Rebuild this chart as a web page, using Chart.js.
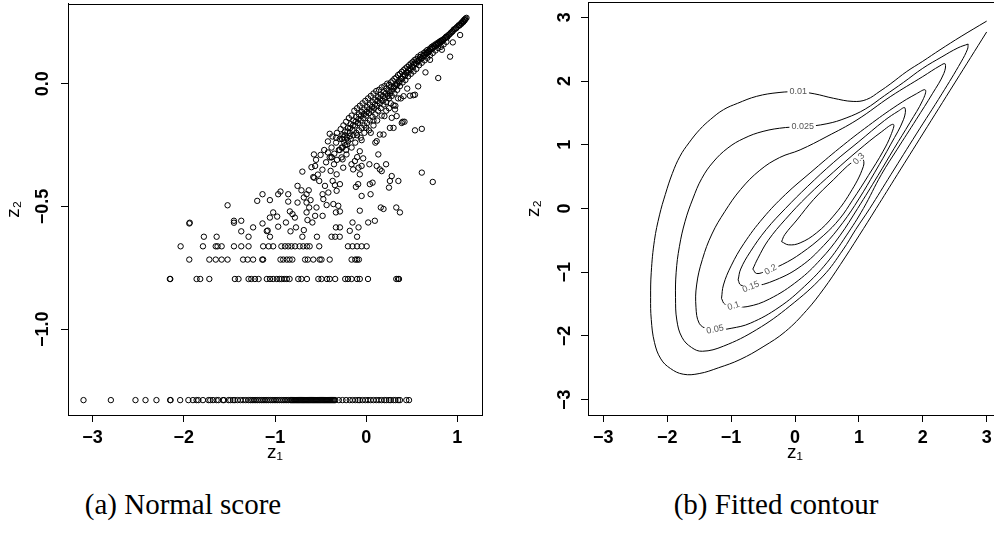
<!DOCTYPE html>
<html><head><meta charset="utf-8">
<script src="https://cdn.jsdelivr.net/npm/chart.js@4.4.0/dist/chart.umd.min.js"></script>
<style>
html,body{margin:0;padding:0;background:#fff;overflow:hidden;width:994px;height:536px;position:relative;}
#c1{position:absolute;left:0;top:0;}
#c2{position:absolute;left:497px;top:0;}
.cap{position:absolute;top:488px;font-family:"Liberation Serif",serif;font-size:29px;line-height:33px;white-space:nowrap;transform:translateX(-50%);color:#000;}
</style></head><body>
<canvas id="c1" width="497" height="470"></canvas>
<canvas id="c2" width="510" height="470"></canvas>
<div class="cap" style="left:183px">(a) Normal score</div>
<div class="cap" style="left:776px">(b) Fitted contour</div>
<script>
// ---------- Panel (a): normal scores ----------
const xTicksA = [-3, -2, -1, 0, 1];
const xLabelsA = ['−3', '−2', '−1', '0', '1'];
const yTicksA = [-1.0, -0.5, 0.0];
const yLabelsA = ['−1.0', '−0.5', '0.0'];

// tied rows (z2 constant)
const rowY = [-1.288, -0.795, -0.716, -0.662, -0.623];
const row1X = [-3.10, -2.80, -2.53, -2.42, -2.30, -2.15, -2.145, -2.04, -1.95, -1.90, -1.86, -1.84, -1.79, -1.73, -1.71, -1.68, -1.64, -1.62, -1.57, -1.56, -1.51, -1.49, -1.46,
  -1.44, -1.41, -1.38, -1.35, -1.32, -1.29, -1.27, -1.25, -1.23, -1.21, -1.19, -1.17, -1.15, -1.13, -1.11, -1.09, -1.07, -1.05, -1.03, -1.01, -0.99, -0.97, -0.95, -0.93, -0.91, -0.89, -0.87, -0.85, -0.83,
  -0.82, -0.81, -0.80, -0.79, -0.78, -0.77, -0.76, -0.75, -0.74, -0.73, -0.72, -0.71, -0.70, -0.69, -0.68, -0.67, -0.66, -0.65, -0.64, -0.63, -0.62, -0.61, -0.60, -0.59, -0.58, -0.57, -0.56, -0.55, -0.54, -0.53, -0.52, -0.51, -0.50, -0.49, -0.48, -0.47, -0.46, -0.45, -0.44, -0.43, -0.42, -0.41, -0.40, -0.39, -0.38, -0.37, -0.36, -0.35, -0.34,
  -0.30, -0.26, -0.22, -0.18, -0.15, -0.12, -0.09, -0.07, -0.04, -0.01, 0.02, 0.05, 0.08, 0.11, 0.14, 0.17, 0.20, 0.22, 0.25, 0.27, 0.30, 0.32, 0.35, 0.37, 0.44, 0.47];
const row2X = [-2.153, -2.148, -1.86, -1.82, -1.72, -1.44, -1.40, -1.29, -1.26, -1.22, -1.18, -1.09, -1.055, -1.02, -0.98, -0.95, -0.93, -0.90, -0.87, -0.84, -0.745, -0.71, -0.65, -0.525, -0.49, -0.43, -0.40, -0.34, -0.23, -0.20, -0.16, -0.10, -0.07, 0.02, 0.33, 0.35, 0.36];
const row3X = [-1.94, -1.72, -1.65, -1.585, -1.52, -1.35, -1.30, -1.24, -1.14, -1.13, -0.94, -0.91, -0.87, -0.84, -0.81, -0.67, -0.64, -0.58, -0.51, -0.49, -0.40, -0.16, -0.12, -0.10, -0.08];
const row4X = [-2.035, -1.79, -1.65, -1.63, -1.585, -1.45, -1.37, -1.29, -1.13, -1.07, -1.02, -0.93, -0.89, -0.855, -0.82, -0.78, -0.73, -0.69, -0.65, -0.62, -0.515, -0.20, -0.15, -0.10, -0.05, 0.005];
const row5X = [-1.78, -1.64, -1.29, -1.055, -0.70, -0.54, -0.38, -0.34, -0.29, -0.10];

// scattered cloud below the diagonal band
const cloudPts = [[-1.94,-0.569],[-1.935,-0.566],[-1.52,-0.495],[-1.45,-0.558],[-1.45,-0.566],[-1.37,-0.558],[-1.37,-0.601],[-1.24,-0.585],[-1.195,-0.477],[-1.137,-0.45],[-1.056,-0.474],[-1.09,-0.60],[-1.08,-0.598],[-1.137,-0.569],[-1.056,-0.545],[-1.02,-0.524],[-0.976,-0.541],[-0.965,-0.582],[-0.965,-0.45],[-0.94,-0.439],[-0.88,-0.565],[-0.855,-0.45],[-0.855,-0.48],[-0.837,-0.52],[-0.808,-0.531],[-0.782,-0.545],[-0.83,-0.601],[-0.77,-0.585],[-0.753,-0.416],[-0.753,-0.484],[-0.71,-0.434],[-0.70,-0.358],[-0.684,-0.463],[-0.654,-0.45],[-0.63,-0.434],[-0.654,-0.484],[-0.61,-0.474],[-0.625,-0.504],[-0.654,-0.524],[-0.684,-0.596],[-0.644,-0.555],[-0.59,-0.565],[-0.58,-0.38],[-0.57,-0.383],[-0.56,-0.335],[-0.573,-0.288],[-0.515,-0.396],[-0.545,-0.504],[-0.56,-0.538],[-0.478,-0.45],[-0.47,-0.47],[-0.452,-0.416],[-0.478,-0.538],[-0.415,-0.443],[-0.434,-0.494],[-0.379,-0.299],[-0.353,-0.328],[-0.39,-0.355],[-0.324,-0.369],[-0.368,-0.396],[-0.343,-0.413],[-0.288,-0.409],[-0.324,-0.436],[-0.36,-0.49],[-0.306,-0.497],[-0.288,-0.52],[-0.332,-0.524],[-0.332,-0.585],[-0.288,-0.585],[-0.259,-0.308],[-0.252,-0.342],[-0.216,-0.288],[-0.161,-0.328],[-0.143,-0.349],[-0.124,-0.315],[-0.099,-0.299],[-0.084,-0.342],[-0.07,-0.369],[-0.05,-0.335],[-0.033,-0.304],[-0.088,-0.409],[-0.113,-0.42],[-0.05,-0.457],[0.04,-0.409],[0.07,-0.403],[0.048,-0.45],[0.115,-0.335],[-0.07,-0.517],[0.022,-0.565],[0.095,-0.558],[-0.15,-0.565],[-0.084,-0.585],[-0.18,-0.599],
  [0.16,-0.504],[0.19,-0.51],[0.17,-0.356],[0.26,-0.396],[0.28,-0.376],[0.25,-0.423],[0.33,-0.504],[0.37,-0.524],[0.40,-0.155],[0.42,-0.155],[0.535,-0.19],[0.61,-0.184],[0.61,-0.362],[0.73,-0.40],[0.57,-0.011],[0.535,-0.045],[0.517,-0.047],[0.79,0.023],[0.92,0.11],[1.03,0.198],[0.95,0.168],[0.83,0.138],[0.70,0.097],[0.65,0.046],[0.334,-0.132],[0.30,-0.088],[0.26,-0.18],[0.20,-0.132],[0.15,-0.207],[0.10,-0.24],[0.133,-0.288],[0.218,-0.328],[0.15,-0.349],[0.035,-0.328],[0.353,-0.396],[0.316,-0.105],[0.28,-0.139],[0.30,-0.18],[0.19,-0.207],[0.115,-0.234],[0.48,-0.049],[0.41,-0.051],[0.39,-0.16],[0.45,-0.02],[0.35,-0.06],[0.25,-0.1],[0.05,-0.2],[0.0,-0.18],[-0.05,-0.23],[-0.1,-0.21],[0.08,-0.15],
  [-0.40,-0.204],[-0.33,-0.22],[-0.25,-0.218],[-0.21,-0.247],[-0.18,-0.214],[-0.07,-0.275],[-0.42,-0.28],[-0.38,-0.30]];

// dense diagonal band (upper edge and its thick body)
const bandPts = [[1.10,0.268],[1.09,0.265],[1.085,0.262],[1.08,0.258],[1.075,0.26],[1.07,0.255],[1.065,0.251],[1.06,0.254],[1.05,0.248],[1.045,0.244],[1.04,0.246],[1.03,0.24],[1.02,0.236],[1.015,0.238],[1.0,0.232],[0.99,0.228],[0.985,0.225],[0.97,0.222],[0.96,0.22],[0.95,0.214],[0.94,0.21],[0.93,0.208],[0.92,0.203],[0.91,0.2],[0.9,0.197],[0.89,0.19],[0.88,0.192],[0.87,0.186],[0.86,0.184],[0.85,0.18],[0.84,0.178],[0.83,0.172],[0.82,0.175],[0.81,0.168],[0.80,0.17],[0.79,0.163],[0.78,0.165],[0.77,0.158],[0.76,0.16],[0.75,0.152],[0.74,0.155],[0.73,0.146],[0.72,0.15],[0.71,0.14],[0.70,0.143],[0.69,0.134],[0.68,0.128],[0.67,0.137],[0.66,0.125],[0.65,0.13],[0.64,0.118],[0.63,0.124],[0.62,0.112],[0.61,0.104],[0.60,0.118],[0.59,0.108],[0.58,0.098],[0.57,0.11],[0.56,0.092],[0.55,0.1],[0.54,0.085],[0.53,0.096],[0.52,0.078],[0.51,0.088],[0.50,0.07],[0.49,0.082],[0.48,0.062],[0.47,0.075],[0.46,0.055],[0.45,0.068],[0.44,0.045],[0.43,0.062],[0.42,0.038],[0.41,0.055],[0.40,0.03],[0.39,0.048],[0.38,0.02],[0.37,0.04],[0.36,0.01],[0.35,0.035],[0.34,0.0],[0.33,0.025],[0.32,-0.01],[0.31,0.02],[0.30,-0.02],[0.29,0.012],[0.28,-0.03],[0.27,0.005],[0.26,-0.04],[0.25,-0.005],[0.24,-0.05],[0.23,0.0],[0.22,-0.02],[0.21,-0.06],[0.20,-0.01],[0.19,-0.035],[0.18,-0.07],[0.17,-0.015],[0.16,-0.045],[0.15,-0.08],[0.14,-0.025],[0.13,-0.055],[0.12,-0.09],[0.11,-0.03],[0.10,-0.065],[0.09,-0.1],[0.08,-0.04],[0.07,-0.075],[0.06,-0.11],[0.05,-0.05],[0.04,-0.085],[0.03,-0.12],[0.02,-0.06],[0.01,-0.095],[0.0,-0.13],[-0.01,-0.07],[-0.02,-0.105],[-0.03,-0.14],[-0.04,-0.08],[-0.05,-0.115],[-0.06,-0.15],[-0.07,-0.09],[-0.08,-0.125],[-0.09,-0.16],[-0.10,-0.1],[-0.11,-0.135],[-0.12,-0.17],[-0.13,-0.11],[-0.14,-0.15],[-0.15,-0.19],[-0.16,-0.13],[-0.17,-0.165],[-0.18,-0.2],[-0.19,-0.14],[-0.2,-0.18],[-0.21,-0.22],[-0.22,-0.155],[-0.23,-0.195],[-0.24,-0.24],[-0.25,-0.17],[-0.26,-0.21],[-0.27,-0.26],[-0.28,-0.185],[-0.29,-0.225],[-0.30,-0.27],[-0.32,-0.2],[-0.33,-0.24],[-0.35,-0.285],[-0.37,-0.215],[-0.38,-0.26],[-0.40,-0.3],[-0.42,-0.235],[-0.44,-0.32],[-0.46,-0.27],[-0.48,-0.35],[-0.5,-0.29],[-0.53,-0.37],[-0.55,-0.31],[-0.6,-0.34]];
const bandBodyPts = [[0.88,0.17],[0.85,0.16],[0.82,0.15],[0.79,0.145],[0.76,0.135],[0.73,0.125],[0.70,0.115],[0.67,0.105],[0.64,0.095],[0.61,0.085],[0.58,0.075],[0.55,0.06],[0.52,0.05],[0.49,0.04],[0.46,0.03],[0.43,0.015],[0.40,0.005],[0.37,-0.01],[0.34,-0.025],[0.31,-0.04],[0.28,-0.05],[0.25,-0.06],[0.22,-0.075],[0.19,-0.085],[0.16,-0.1],[0.13,-0.11],[0.10,-0.125],[0.07,-0.135],[0.04,-0.15],[0.01,-0.16],[-0.02,-0.17],[-0.05,-0.18],[-0.08,-0.19],[-0.11,-0.2],[-0.14,-0.21],[-0.17,-0.225],[-0.20,-0.235],[-0.23,-0.25],[-0.26,-0.26],[-0.29,-0.27],
  [0.38,-0.06],[0.32,-0.09],[0.27,-0.08],[0.22,-0.11],[0.17,-0.13],[0.12,-0.15],[0.08,-0.17],[0.03,-0.19],[-0.02,-0.2],[-0.06,-0.22],[-0.12,-0.24],[-0.16,-0.26],[-0.22,-0.27],[-0.27,-0.3],[-0.32,-0.31],
  [0.875,0.19],[0.845,0.18],[0.815,0.172],[0.785,0.16],[0.755,0.152],[0.725,0.142],[0.695,0.133],[0.665,0.122],[0.635,0.112],[0.605,0.102],[0.575,0.092],[0.545,0.08],[0.515,0.068],[0.485,0.055],[0.455,0.045],[0.425,0.032],[0.395,0.02],[0.365,0.005],[0.335,-0.005],[0.305,-0.015],[0.275,-0.012],[0.245,-0.03],[0.215,-0.04],[0.185,-0.05],[0.155,-0.06],[0.125,-0.07],[0.095,-0.085],[0.065,-0.095],[0.035,-0.105],[0.005,-0.115],[-0.025,-0.125],[-0.055,-0.13],[-0.085,-0.145],[-0.115,-0.155],[-0.145,-0.17],[-0.175,-0.18],[-0.205,-0.195],[-0.235,-0.21],[-0.265,-0.225]];

// ---------- Panel (b): fitted contour ----------
const xTicksB = [-3, -2, -1, 0, 1, 2, 3];
const xLabelsB = ['−3', '−2', '−1', '0', '1', '2', '3'];
const yTicksB = [-3, -2, -1, 0, 1, 2, 3];
const yLabelsB = ['−3', '−2', '−1', '0', '1', '2', '3'];

const c001 = [[3.0,2.94],[2.6,2.70],[2.27,2.49],[2.0,2.31],[1.75,2.15],[1.5,1.96],[1.33,1.84],[1.12,1.71],[0.91,1.68],[0.6,1.73],[0.3,1.80],[0.05,1.83],[-0.25,1.82],[-0.6,1.76],[-0.9,1.65],[-1.12,1.55],[-1.32,1.40],[-1.49,1.24],[-1.66,1.03],[-1.80,0.82],[-1.92,0.55],[-2.03,0.22],[-2.12,-0.1],[-2.2,-0.5],[-2.25,-1.0],[-2.26,-1.4],[-2.25,-1.74],[-2.20,-2.10],[-2.10,-2.36],[-1.95,-2.51],[-1.75,-2.60],[-1.5,-2.59],[-1.2,-2.50],[-0.86,-2.37],[-0.5,-2.17],[-0.15,-1.93],[0.18,-1.60],[0.45,-1.26],[0.71,-0.88],[1.0,-0.43],[1.27,0.0],[1.6,0.53],[2.0,1.17],[2.5,1.97],[3.0,2.77]];
const c0025 = [[2.71,2.58],[2.55,2.52],[2.3,2.38],[2.0,2.20],[1.7,1.98],[1.4,1.77],[1.1,1.56],[0.8,1.42],[0.5,1.33],[0.12,1.28],[-0.15,1.27],[-0.5,1.21],[-0.8,1.10],[-1.05,0.95],[-1.28,0.73],[-1.46,0.47],[-1.6,0.15],[-1.72,-0.2],[-1.81,-0.6],[-1.86,-1.0],[-1.87,-1.4],[-1.85,-1.75],[-1.77,-2.02],[-1.62,-2.18],[-1.45,-2.24],[-1.12,-2.16],[-0.6,-1.90],[-0.08,-1.53],[0.44,-1.06],[0.75,-0.65],[0.95,-0.33],[1.17,0.0],[1.5,0.53],[1.9,1.17],[2.3,1.8],[2.6,2.3],[2.7,2.5],[2.71,2.58]];
const c005 = [[-1.38,-1.9],[-1.5,-1.8],[-1.55,-1.55],[-1.54,-1.2],[-1.45,-0.8],[-1.3,-0.4],[-1.1,-0.05],[-0.85,0.3],[-0.55,0.6],[-0.24,0.80],[0.08,0.92],[0.5,1.13],[0.97,1.39],[1.5,1.76],[2.0,2.07],[2.27,2.24],[2.35,2.27],[2.33,2.12],[2.15,1.8],[1.9,1.4],[1.6,0.93],[1.35,0.53],[1.07,0.0],[0.8,-0.43],[0.5,-0.85],[0.15,-1.22],[-0.25,-1.55],[-0.7,-1.8],[-1.0,-1.88],[-1.25,-1.91],[-1.38,-1.9]];
const c01 = [[-1.15,-1.41],[-1.12,-1.2],[-1.0,-0.9],[-0.8,-0.55],[-0.5,-0.15],[-0.15,0.22],[0.25,0.57],[0.7,0.95],[1.15,1.3],[1.6,1.62],[1.9,1.8],[2.04,1.86],[2.0,1.7],[1.8,1.35],[1.55,0.94],[1.3,0.52],[0.98,0.0],[0.7,-0.43],[0.4,-0.8],[0.05,-1.13],[-0.4,-1.42],[-0.75,-1.54],[-0.96,-1.53],[-1.1,-1.5],[-1.15,-1.41]];
const c015 = [[-0.89,-1.12],[-0.85,-0.95],[-0.7,-0.68],[-0.45,-0.33],[-0.15,0.0],[0.2,0.35],[0.6,0.72],[1.0,1.05],[1.4,1.38],[1.62,1.53],[1.72,1.58],[1.7,1.4],[1.5,1.01],[1.25,0.57],[1.0,0.15],[0.75,-0.22],[0.45,-0.58],[0.1,-0.9],[-0.3,-1.12],[-0.69,-1.23],[-0.85,-1.2],[-0.89,-1.12]];
const c02 = [[-0.66,-0.95],[-0.58,-0.78],[-0.42,-0.5],[-0.15,-0.17],[0.2,0.2],[0.6,0.57],[1.0,0.92],[1.35,1.2],[1.54,1.32],[1.5,1.15],[1.38,0.9],[1.15,0.52],[0.9,0.13],[0.7,-0.16],[0.45,-0.42],[0.1,-0.7],[-0.2,-0.88],[-0.45,-0.98],[-0.6,-1.02],[-0.66,-0.95]];
const c03 = [[-0.21,-0.52],[-0.16,-0.41],[0.03,-0.18],[0.29,0.14],[0.6,0.45],[0.91,0.74],[1.05,0.79],[1.07,0.66],[0.86,0.24],[0.6,-0.12],[0.34,-0.38],[0.08,-0.54],[-0.10,-0.57],[-0.21,-0.52]];
const contourLevels = [c001, c0025, c005, c01, c015, c02, c03];

const labelText = ['0.01', '0.025', '0.05', '0.1', '0.15', '0.2', '0.3'];
const labelX = [0.05, 0.12, -1.25, -0.96, -0.69, -0.38, 1.0];
const labelY = [1.83, 1.28, -1.90, -1.53, -1.23, -0.96, 0.78];
const labelAngle = [0, 0, -12, -18, -22, -30, -45];

// ---------- helpers ----------
const FONT = "'Liberation Sans', Arial, Helvetica, sans-serif";
const frame = {
  id: 'frame',
  afterDraw(chart) {
    const {ctx, chartArea: a} = chart;
    ctx.save();
    ctx.strokeStyle = '#000';
    ctx.lineWidth = 1;
    ctx.strokeRect(Math.round(a.left) + 0.5, Math.round(a.top) + 0.5, Math.round(a.right - a.left), Math.round(a.bottom - a.top));
    ctx.restore();
  }
};
const contourLabels = {
  id: 'clabels',
  afterDatasetsDraw(chart) {
    const {ctx} = chart;
    const sx = chart.scales.x, sy = chart.scales.y;
    ctx.save();
    ctx.font = '9px ' + FONT;
    ctx.textAlign = 'center';
    ctx.textBaseline = 'middle';
    labelText.forEach((t, i) => {
      const px = sx.getPixelForValue(labelX[i]);
      const py = sy.getPixelForValue(labelY[i]);
      ctx.save();
      ctx.translate(px, py);
      ctx.rotate(labelAngle[i] * Math.PI / 180);
      const w = ctx.measureText(t).width + 4;
      ctx.fillStyle = '#fff';
      ctx.fillRect(-w / 2, -4, w, 8);
      ctx.fillStyle = '#555';
      ctx.fillText(t, 0, 0);
      ctx.restore();
    });
    ctx.restore();
  }
};

function axis(kind, min, max, ticks, labels, extra) {
  const horiz = kind === 'x';
  return {
    type: 'linear',
    position: horiz ? 'bottom' : 'left',
    min: min, max: max,
    afterBuildTicks: s => { s.ticks = ticks.map(v => ({value: v})); },
    ticks: {
      callback: (v, i) => labels[i],
      autoSkip: false,
      font: {family: FONT, weight: 'bold', size: 18},
      color: '#000',
      padding: extra.tickPad,
      minRotation: horiz ? 0 : 90,
      maxRotation: horiz ? 0 : 90,
      crossAlign: horiz ? 'near' : 'center'
    },
    grid: {drawOnChartArea: false, drawTicks: true, tickLength: 7, color: '#000', lineWidth: 1},
    border: {display: true, color: '#000', width: 1},
    title: {display: true, text: horiz ? 'z₁' : 'z₂', color: '#000',
      font: {family: FONT, size: 19}, padding: extra.titlePad},
    afterFit: s => {
      if (horiz) s.height = extra.size; else s.width = extra.size;
      s.paddingTop = 0; s.paddingBottom = 0; s.paddingLeft = 0; s.paddingRight = 0;
    }
  };
}

const ptStyle = {pointRadius: 2.7, pointBorderWidth: 1, pointBorderColor: '#000', pointBackgroundColor: 'rgba(0,0,0,0)', pointHoverRadius: 2.7, showLine: false};

const scatterSets = [];
[row1X, row2X, row3X, row4X, row5X].forEach((xs, k) => {
  scatterSets.push(Object.assign({data: xs.map(x => ({x: x, y: rowY[k]}))}, ptStyle));
});
[cloudPts, bandPts, bandBodyPts].forEach(list => {
  scatterSets.push(Object.assign({data: list.map(p => ({x: p[0], y: p[1]}))}, ptStyle));
});

const common = {
  responsive: false, animation: false, events: [],
  plugins: {legend: {display: false}, tooltip: {enabled: false}}
};

new Chart(document.getElementById('c1'), {
  type: 'scatter',
  data: {datasets: scatterSets},
  options: Object.assign({}, common, {
    layout: {padding: {left: 0, top: 2, right: 15, bottom: 0}},
    scales: {
      x: axis('x', -3.27, 1.27, xTicksA, xLabelsA, {tickPad: 5, titlePad: {top: 0, bottom: 6}, size: 55}),
      y: axis('y', -1.3486, 0.3255, yTicksA, yLabelsA, {tickPad: 0, titlePad: {top: 2, bottom: 0}, size: 68})
    }
  }),
  plugins: [frame]
});

new Chart(document.getElementById('c2'), {
  type: 'scatter',
  data: {datasets: contourLevels.map(c => ({
    data: c.map(p => ({x: p[0], y: p[1]})),
    showLine: true, pointRadius: 0, borderColor: '#000', borderWidth: 1, tension: 0.4, fill: false
  }))},
  options: Object.assign({}, common, {
    layout: {padding: {left: 0, top: 2, right: 5, bottom: 0}},
    scales: {
      x: axis('x', -3.24, 3.24, xTicksB, xLabelsB, {tickPad: 5, titlePad: {top: 0, bottom: 6}, size: 55}),
      y: axis('y', -3.24, 3.24, yTicksB, yLabelsB, {tickPad: 6, titlePad: {top: 25, bottom: 0}, size: 91})
    }
  }),
  plugins: [frame, contourLabels]
});
</script>
</body></html>
